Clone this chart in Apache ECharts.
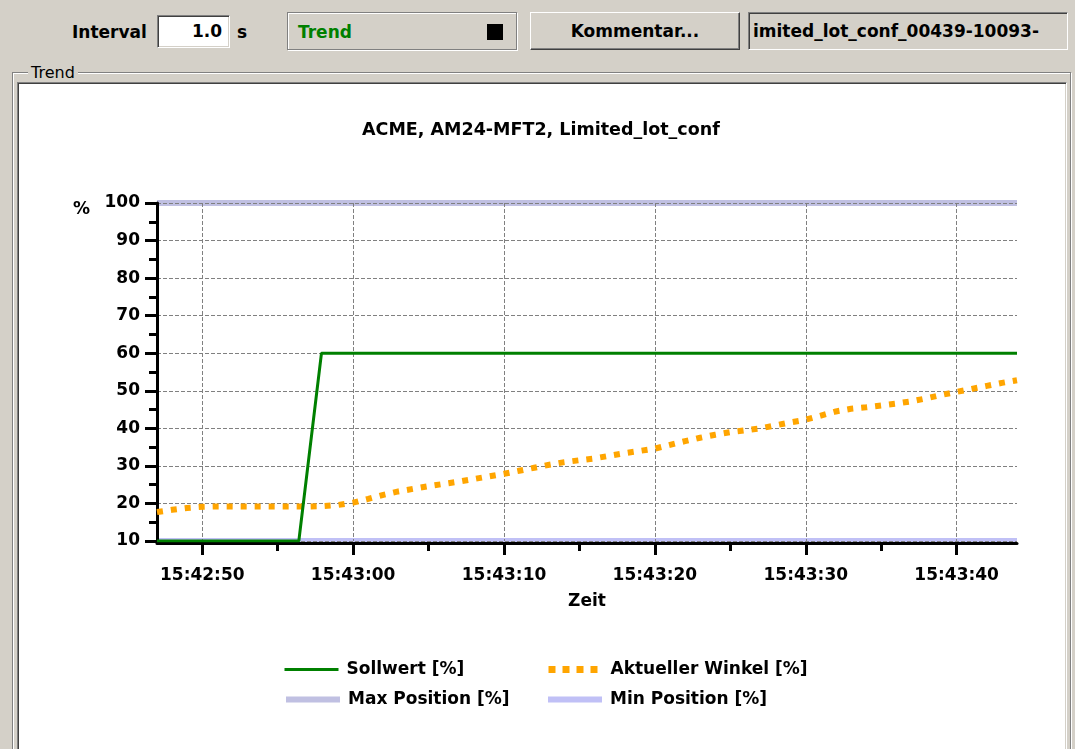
<!DOCTYPE html>
<html><head><meta charset="utf-8">
<script src="https://cdn.jsdelivr.net/npm/echarts@6/dist/echarts.min.js"></script>
<style>
html,body{margin:0;padding:0;width:1075px;height:749px;overflow:hidden;background:#d4d0c8;font-family:'DejaVu Sans',sans-serif;}
.abs{position:absolute;box-sizing:border-box;}
.b{font-weight:bold;font-size:17px;color:#000;}
.sunken{border-top:1px solid #808080;border-left:1px solid #808080;border-right:1px solid #fff;border-bottom:1px solid #fff;box-shadow:inset 1px 1px 0 #404040, inset -1px -1px 0 #d4d0c8;}
.raised{border-top:1px solid #fff;border-left:1px solid #fff;border-right:1px solid #404040;border-bottom:1px solid #404040;box-shadow:inset -1px -1px 0 #808080;background:#d4d0c8;}
</style></head><body>
<div class="abs b" style="left:72px;top:22px;">Interval</div>
<div class="abs sunken b" style="left:157px;top:15px;width:73px;height:33px;background:#fff;text-align:right;padding-right:7px;line-height:31px;">1.0</div>
<div class="abs b" style="left:237px;top:22px;">s</div>
<div class="abs" style="left:287px;top:12px;width:230px;height:38px;border:1px solid #808080;box-shadow:1px 1px 0 #fff, inset 1px 1px 0 #fff;"></div>
<div class="abs b" style="left:298px;top:22px;color:#008000;">Trend</div>
<div class="abs" style="left:487px;top:24px;width:16px;height:16px;background:#000;"></div>
<div class="abs raised b" style="left:530px;top:12px;width:210px;height:38px;text-align:center;line-height:36px;">Kommentar...</div>
<div class="abs sunken b" style="left:748px;top:12px;width:320px;height:38px;line-height:36px;padding-left:4px;overflow:hidden;white-space:nowrap;">imited_lot_conf_00439-10093-</div>
<div class="abs" style="left:12px;top:72px;width:1059px;height:700px;border:1px solid #808080;box-shadow:inset 1px 1px 0 #fff, 1px 1px 0 #fff;"></div>
<div class="abs" style="left:28px;top:63px;padding:0 3px;background:#d4d0c8;font-size:16px;color:#000;">Trend</div>
<div class="abs sunken" style="left:17px;top:82px;width:1050px;height:672px;background:#fff;"></div>
<div id="chart" class="abs" style="left:0;top:0;width:1075px;height:749px;"></div>
<script>
// ---- data ----
const chartTitle = 'ACME, AM24-MFT2, Limited_lot_conf';
const startTime = '15:42:47';
const endTime = '15:43:44';
const majorTimeTicks = ['15:42:50','15:43:00','15:43:10','15:43:20','15:43:30','15:43:40'];
const minorTimeTicks = ['15:42:55','15:43:05','15:43:15','15:43:25','15:43:35'];
const sollTimes = ['15:42:47','15:42:56.4','15:42:57.9','15:43:44'];
const sollValues = [10, 10, 60, 60];
const winkelStart = '15:42:47';
const winkelStepSec = 1;
const winkelValues = [17.7,18.3,18.8,19.1,19.2,19.2,19.2,19.2,19.2,19.2,
  19.2,19.3,19.6,20.2,21.2,22.3,23.2,23.9,24.6,25.2,
  25.8,26.5,27.2,27.9,28.7,29.5,30.3,31.0,31.5,32.0,
  32.7,33.4,34.0,34.6,35.6,36.6,37.5,38.3,39.0,39.5,
  40.0,40.8,41.6,42.3,43.4,44.5,45.2,45.6,46.1,46.6,
  47.2,48.0,48.9,49.7,50.5,51.3,52.1,52.8];
const maxPosition = 100;
const minPosition = 10;
const yMin = 10, yMax = 100, yStep = 10;
const seriesNames = ['Sollwert [%]','Aktueller Winkel [%]','Max Position [%]','Min Position [%]'];

// ---- helpers ----
function toSec(s){ const p = s.split(':'); return (+p[0])*3600 + (+p[1])*60 + parseFloat(p[2]); }
function pad(n){ return (n<10?'0':'')+n; }
function fmt(v){ v=Math.round(v); const h=Math.floor(v/3600), m=Math.floor((v%3600)/60), s=v%60; return h+':'+pad(m)+':'+pad(s); }

const t0 = toSec(startTime), t1 = toSec(endTime);
const sollData = sollTimes.map((t,i)=>[toSec(t), sollValues[i]]);
const w0 = toSec(winkelStart);
const winkelData = winkelValues.map((v,i)=>[w0 + i*winkelStepSec, v]);
const FONT = 'DejaVu Sans';
const txt = {fontFamily: FONT, fontWeight: 'bold', fontSize: 17, color: '#000'};
const grid = {type:'dashed', color:'#808080', width:1, dashOffset:0};

const COL = {soll:'#008000', winkel:'#ffa500', max:'#c0c0e2', min:'#c0c0f6'};

function legendAt(name, left, top, lineStyle){
  return {data:[name], left:left, top:top, padding:0, itemWidth:54, itemHeight:14,
    selectedMode:false,
    itemStyle:{color:'rgba(0,0,0,0)', borderColor:'rgba(0,0,0,0)', borderWidth:0, opacity:0},
    lineStyle:lineStyle,
    textStyle:Object.assign({}, txt, {padding:[0,0,0,3]})};
}

const chart = echarts.init(document.getElementById('chart'), null, {renderer:'canvas'});
chart.setOption({
  animation:false,
  backgroundColor:'transparent',
  title:{text:chartTitle, left:357, top:116, textStyle:Object.assign({}, txt, {fontSize:17.5})},
  grid:{left:157, top:203, right:58, bottom:208, containLabel:false},
  legend:[
    legendAt(seriesNames[0], 283, 661, {color:COL.soll, width:3, type:'solid'}),
    legendAt(seriesNames[1], 545, 661, {color:COL.winkel, width:7, type:[7,7], cap:'butt'}),
    legendAt(seriesNames[2], 283, 691, {color:COL.max, width:6, type:'solid'}),
    legendAt(seriesNames[3], 545, 691, {color:COL.min, width:6, type:'solid'})
  ],
  xAxis:[{
    type:'value', min:t0, max:t1, position:'bottom', offset:2,
    name:'Zeit', nameLocation:'middle', nameGap:50, nameTextStyle:txt,
    axisLine:{show:true, onZero:false, lineStyle:{color:'#000', width:3}},
    axisTick:{show:true, customValues:majorTimeTicks.map(toSec), length:12, lineStyle:{color:'#000', width:3}},
    axisLabel:{customValues:majorTimeTicks.map(toSec), formatter:fmt, margin:24, ...txt},
    splitLine:{show:true, lineStyle:grid}
  },{
    type:'value', min:t0, max:t1, position:'bottom', offset:2,
    axisLine:{show:false},
    axisTick:{show:true, customValues:minorTimeTicks.map(toSec), length:8, lineStyle:{color:'#000', width:3}},
    axisLabel:{show:false},
    splitLine:{show:false}
  }],
  yAxis:{
    type:'value', min:yMin, max:yMax, interval:yStep,
    name:'%', nameLocation:'end', nameGap:-7,
    nameTextStyle:Object.assign({}, txt, {align:'right', verticalAlign:'middle', padding:[0,67,0,0]}),
    axisLine:{show:true, lineStyle:{color:'#000', width:3}},
    axisTick:{show:true, length:12, lineStyle:{color:'#000', width:3}},
    minorTick:{show:true, splitNumber:2, length:8, lineStyle:{color:'#000', width:3}},
    axisLabel:{margin:17, ...txt},
    splitLine:{show:true, lineStyle:grid}
  },
  series:[
    {name:seriesNames[2], type:'line', z:-1, symbol:'none', silent:true,
      data:[[t0,maxPosition],[t1,maxPosition]], color:COL.max, lineStyle:{color:COL.max, width:6}},
    {name:seriesNames[3], type:'line', z:-1, symbol:'none', silent:true,
      data:[[t0,minPosition],[t1,minPosition]], color:COL.min, lineStyle:{color:COL.min, width:6}},
    {name:seriesNames[1], type:'line', z:3, symbol:'none', silent:true,
      data:winkelData, color:COL.winkel, lineStyle:{color:COL.winkel, width:6, type:[6,8], cap:'butt'}},
    {name:seriesNames[0], type:'line', z:4, symbol:'none', silent:true,
      data:sollData, color:COL.soll, lineStyle:{color:COL.soll, width:3}}
  ]
});
</script>
</body></html>
